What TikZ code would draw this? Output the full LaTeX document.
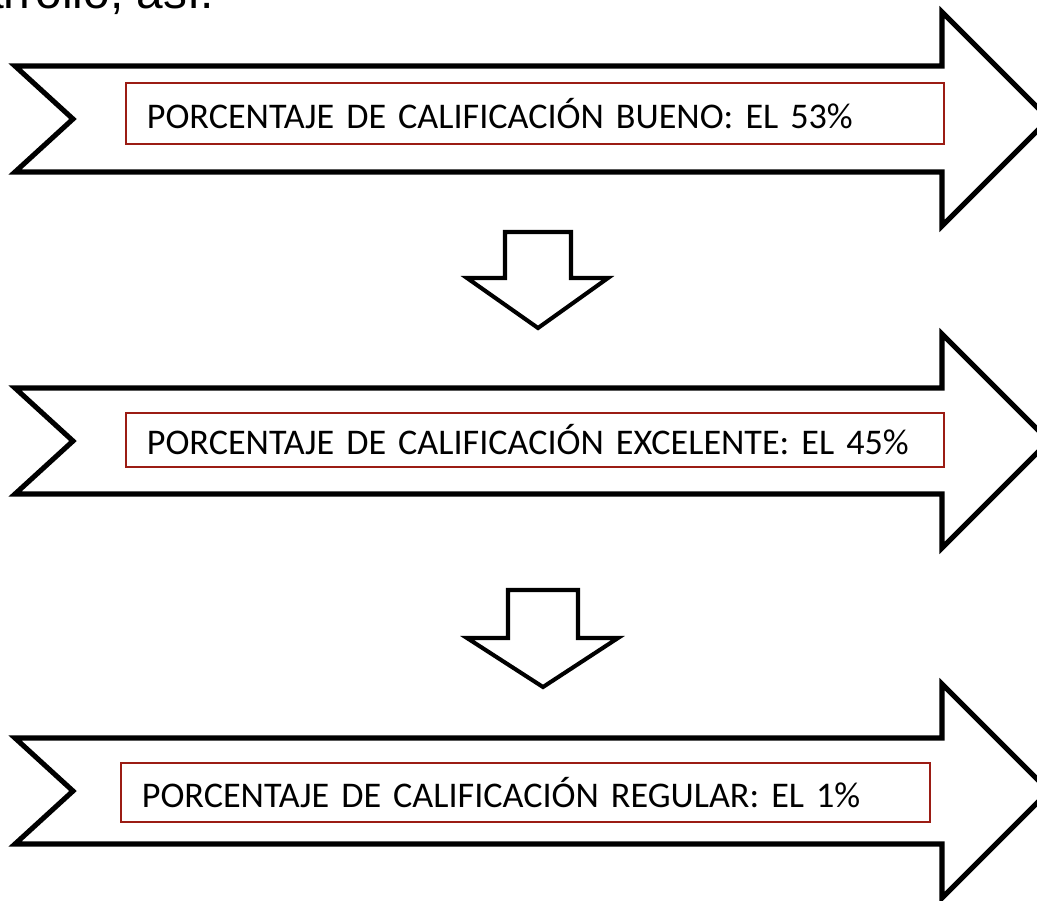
\documentclass[tikz,border=0pt]{standalone}
\usepackage{fontspec}
\setmainfont{Carlito}
\newfontfamily\arialfont{Liberation Sans}
\definecolor{boxred}{RGB}{155,28,20}
\tikzset{
	bigarrow/.style={draw=black, line width=3.6pt, line join=miter, fill=white},
	downarrow/.style={draw=black, line width=2.9pt, line join=miter, fill=white},
	resultbox/.style={draw=boxred, line width=1.2pt, anchor=west, inner xsep=0.525cm, inner ysep=0pt, align=left, font=\fontsize{25.7}{30}\selectfont}
}
\begin{document}
\begin{tikzpicture}[x=0.025cm, y=-0.025cm]
			\clip (0,0) rectangle (1037,900);
			\node [font=\arialfont\fontsize{34}{40}\selectfont, anchor=base east, inner sep=0pt] (intro) at (214,9) {arrollo, así.};
			
			\foreach \c in {119, 441, 791} {
				\draw[bigarrow] (15,\c-53) -- (942,\c-53) -- (942,\c-107) -- (1049,\c) -- (942,\c+107) -- (942,\c+53) -- (15,\c+53) -- (73,\c) -- cycle;
			}
			
			\draw[downarrow] (505,232) -- (571,232) -- (571,278) -- (608,278) -- (538,328) -- (467,278) -- (505,278) -- cycle;
			\draw[downarrow] (508,590) -- (578,590) -- (578,638) -- (618,638) -- (543,687) -- (467,638) -- (508,638) -- cycle;
			
			\node [resultbox, text width=19.4cm, minimum height=1.525cm] (bueno) at (125,113.5) {PORCENTAJE DE CALIFICACIÓN BUENO: EL 53\%};
			\node [resultbox, text width=19.4cm, minimum height=1.35cm] (excelente) at (125,440) {PORCENTAJE DE CALIFICACIÓN EXCELENTE: EL 45\%};
			\node [resultbox, text width=19.175cm, minimum height=1.475cm] (regular) at (120,792.5) {PORCENTAJE DE CALIFICACIÓN REGULAR: EL 1\%};
\end{tikzpicture}
\end{document}
